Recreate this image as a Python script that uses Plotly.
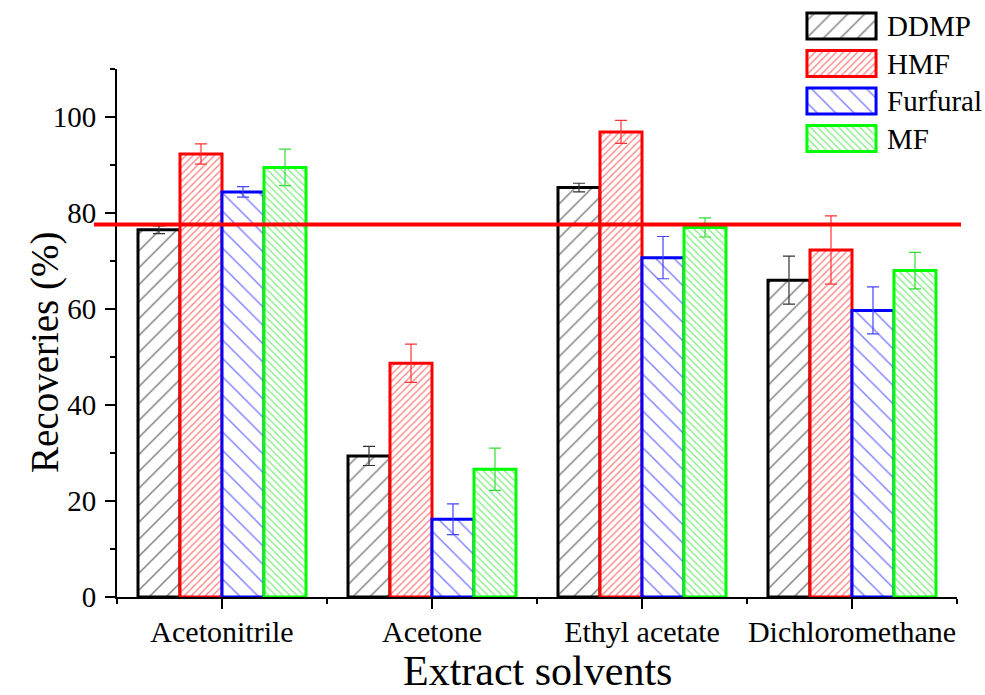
import plotly.graph_objects as go

categories = ["Acetonitrile", "Acetone", "Ethyl acetate", "Dichloromethane"]
series_names = ["DDMP", "HMF", "Furfural", "MF"]
ddmp = [76.5, 29.4, 85.3, 66.0]
ddmp_err = [0.8, 2.0, 0.9, 5.0]
hmf = [92.3, 48.7, 96.9, 72.3]
hmf_err = [2.1, 4.0, 2.4, 7.1]
furfural = [84.4, 16.2, 70.7, 59.7]
furfural_err = [1.1, 3.2, 4.4, 4.9]
mf = [89.5, 26.6, 77.0, 68.0]
mf_err = [3.8, 4.4, 2.0, 3.8]
threshold = 77.6
y_ticks = [0, 20, 40, 60, 80, 100]

values = [ddmp, hmf, furfural, mf]
errors = [ddmp_err, hmf_err, furfural_err, mf_err]
line_colors = ["#000000", "#ff0000", "#0000ff", "#00ff00"]
hatch_colors = ["#000000", "#ff0000", "#0000ff", "#00dd00"]
err_colors = ["#333333", "#ff3333", "#4444ff", "#33dd33"]
shapes_p = ["/", "/", "\\", "\\"]
sizes_p = [12, 5, 13, 5]
solid_p = [0.12, 0.26, 0.11, 0.26]

FONT = "Liberation Serif, Times New Roman, serif"
W, H = 985, 695
L, R, T, B = 117, 28, 0, 98
plot_h = H - T - B  # 597
axis_top_px = 69

x = list(range(len(categories)))

fig = go.Figure()
for i, name in enumerate(series_names):
    fig.add_trace(go.Bar(
        x=x, y=values[i], name=name,
        marker=dict(
            color="white",
            line=dict(color=line_colors[i], width=3),
            pattern=dict(shape=shapes_p[i], fgcolor=hatch_colors[i], bgcolor="white",
                         size=sizes_p[i], solidity=solid_p[i], fillmode="overlay"),
        ),
        error_y=dict(type="data", array=errors[i], color=err_colors[i],
                     thickness=1.2, width=6, visible=True),
        showlegend=False,
    ))

# legend swatches as patterned bars on an overlay axis
fig.add_trace(go.Bar(
    x=[1] * len(series_names), y=list(range(len(series_names))), orientation="h",
    xaxis="x2", yaxis="y2", width=0.69,
    marker=dict(
        color="white",
        line=dict(color=line_colors, width=3),
        pattern=dict(shape=shapes_p, fgcolor=hatch_colors, bgcolor="white",
                     size=sizes_p, solidity=solid_p, fillmode="overlay"),
    ),
    showlegend=False, hoverinfo="skip",
))

annotations = []
for i, name in enumerate(series_names):
    annotations.append(dict(
        x=(885 - L) / (W - L - R), y=i, xref="paper", yref="y2",
        text=name, showarrow=False, xanchor="left", yanchor="middle",
        font=dict(family=FONT, size=29, color="black"),
    ))
annotations.append(dict(
    x=(45 - L) / (W - L - R), y=(plot_h - 353) / plot_h, xref="paper", yref="paper",
    text="Recoveries (%)", textangle=-90, showarrow=False,
    xanchor="center", yanchor="middle",
    font=dict(family=FONT, size=39, color="black"),
))
annotations.append(dict(
    x=0.5, y=(plot_h - 671) / plot_h, xref="paper", yref="paper",
    text="Extract solvents", showarrow=False,
    xanchor="center", yanchor="middle",
    font=dict(family=FONT, size=42, color="black"),
))

fig.add_shape(type="line", xref="paper", yref="y",
              x0=(94 - L) / (W - L - R), x1=(961 - L) / (W - L - R),
              y0=threshold, y1=threshold,
              line=dict(color="#ff0000", width=4), layer="above")

sw_l, sw_r = 803.5, 879.5
sw_top, sw_bot = 7.25, 157.25

fig.update_layout(
    width=W, height=H,
    margin=dict(l=L, r=R, t=T, b=B, pad=0),
    paper_bgcolor="white", plot_bgcolor="white",
    barmode="group", bargap=0.2, bargroupgap=0,
    font=dict(family=FONT, size=29, color="black"),
    annotations=annotations,
    xaxis=dict(
        domain=[0, 1], range=[-0.5, 3.5],
        tickmode="array", tickvals=x, ticktext=categories,
        ticks="outside", ticklen=10, tickwidth=2, tickcolor="black",
        showline=True, linewidth=2, linecolor="black",
        showgrid=False, zeroline=False, ticklabelstandoff=-3,
        tickfont=dict(family=FONT, size=30, color="black"),
        minor=dict(tickmode="array", tickvals=[v - 0.5 for v in x] + [x[-1] + 0.5],
                   ticks="outside", ticklen=5, tickwidth=2, tickcolor="black", showgrid=False),
    ),
    yaxis=dict(
        domain=[0, (plot_h - axis_top_px) / plot_h], range=[0, 110],
        tickmode="array", tickvals=y_ticks,
        ticks="outside", ticklen=10, tickwidth=2, tickcolor="black",
        showline=True, linewidth=2, linecolor="black",
        showgrid=False, zeroline=False, ticklabelstandoff=3,
        tickfont=dict(family=FONT, size=29, color="black"),
        minor=dict(dtick=10, tick0=0, ticks="outside", ticklen=5, tickwidth=2,
                   tickcolor="black", showgrid=False),
    ),
    xaxis2=dict(
        domain=[(sw_l - L) / (W - L - R), (sw_r - L) / (W - L - R)],
        range=[-0.05, 1.05], anchor="y2", visible=False, fixedrange=True,
    ),
    yaxis2=dict(
        domain=[(plot_h - sw_bot) / plot_h, (plot_h - sw_top) / plot_h],
        range=[3.5, -0.5], anchor="x2", visible=False, fixedrange=True,
    ),
)

fig.write_html("out.html")
